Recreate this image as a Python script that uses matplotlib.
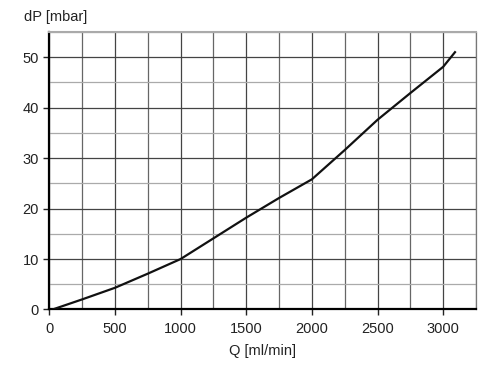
import numpy as np
import matplotlib.pyplot as plt
from matplotlib.ticker import MultipleLocator

plt.rcParams['font.family'] = ['Liberation Sans', 'DejaVu Sans']

# flow rate vs pressure drop
q = [25, 250, 500, 750, 1000, 1250, 1500, 1750, 2000, 2250, 2500, 2750, 3000, 3090]
dp = [0, 2.0, 4.3, 7.1, 10.0, 14.1, 18.2, 22.1, 25.8, 31.6, 37.6, 42.9, 48.1, 51.0]
xticks = [0, 500, 1000, 1500, 2000, 2500, 3000]
yticks = [0, 10, 20, 30, 40, 50]

fig = plt.figure(figsize=(5, 3.67), dpi=100)
ax = fig.add_axes([0.0986, 0.1567, 0.8534, 0.7561])

ax.plot(q, dp, color='#111111', lw=1.6, zorder=3)

ax.set_xlim(0, 3250)
ax.set_ylim(0, 55)
ax.set_xticks(xticks)
ax.set_yticks(yticks)
ax.xaxis.set_minor_locator(MultipleLocator(250))
ax.yaxis.set_minor_locator(MultipleLocator(5))

ax.grid(which='major', axis='y', color='#444444', lw=0.9)
ax.grid(which='minor', axis='y', color='#aaaaaa', lw=0.9)
ax.grid(which='major', axis='x', color='#444444', lw=0.9)
ax.grid(which='minor', axis='x', color='#666666', lw=0.9)

ax.tick_params(which='major', direction='out', length=4, width=1, labelsize=10.5, colors='#222222')
ax.tick_params(which='minor', length=0)
ax.tick_params(axis='x', pad=5)

ax.spines['left'].set_linewidth(1.6)
ax.spines['bottom'].set_linewidth(1.6)
ax.spines['top'].set_color('#aaaaaa')
ax.spines['top'].set_linewidth(1.5)
ax.spines['right'].set_color('#777777')
ax.spines['right'].set_linewidth(0.9)

fig.text(0.048, 0.953, 'dP [mbar]', fontsize=10.5, color='#222222', va='center', ha='left')
ax.set_xlabel('Q [ml/min]', fontsize=10.5, color='#222222', labelpad=6)

fig.savefig('out.png', dpi=100)
